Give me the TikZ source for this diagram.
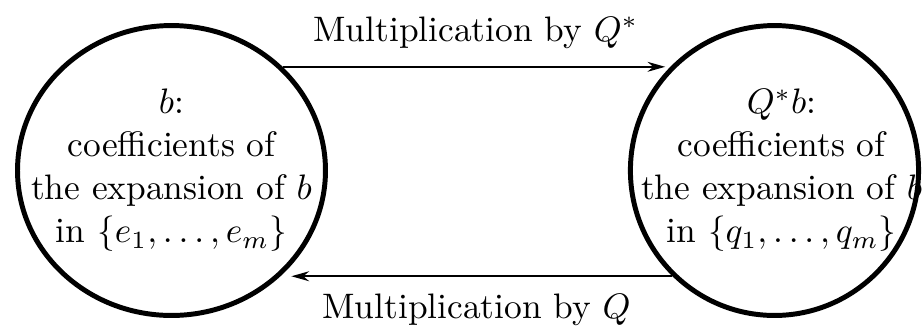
\documentclass[tikz,border=0pt]{standalone}
\usetikzlibrary{shapes.geometric, arrows.meta, positioning}

\begin{document}
\begin{tikzpicture}[
    x=0.2825pt, y=-0.2825pt,
    blob/.style={ellipse, draw, line width=1.4pt, inner sep=0pt},
    txt/.style={align=center, inner sep=0pt, font=\fontsize{10}{12.15}\selectfont},
    lbl/.style={font=\fontsize{10}{12}\selectfont},
    arrow/.style={-{Stealth[length=5pt, width=2.8pt]}, line width=0.6pt}
]
\useasboundingbox (0,0) rectangle (924,330);

\node[blob, minimum width=87pt, minimum height=81.9pt] (lft) at (171.5,170.5) {};
\node[blob, minimum width=81.4pt, minimum height=81.9pt] (rgt) at (774.5,170.5) {};

\node[txt] (lft_txt) at (lft) {$b$:\\ coefficients of\\ the expansion of $b$\\ in $\{e_1,\ldots,e_m\}$};
\node[txt, xshift=2pt] (rgt_txt) at (rgt) {$Q^*b$:\\ coefficients of\\ the expansion of $b$\\ in $\{q_1,\ldots,q_m\}$};

% Maps between the two coefficient vectors
\draw[arrow, shorten >=1pt] (lft.43) -- (lft.43 -| rgt.136)
    node[lbl, midway, above=1.5pt] (top_lbl) {Multiplication by $Q^*$};
\draw[arrow, shorten >=3pt] (rgt.226) -- (rgt.226 -| lft.316)
    node[lbl, midway, below=1.5pt] (bot_lbl) {Multiplication by $Q$};

\end{tikzpicture}
\end{document}
